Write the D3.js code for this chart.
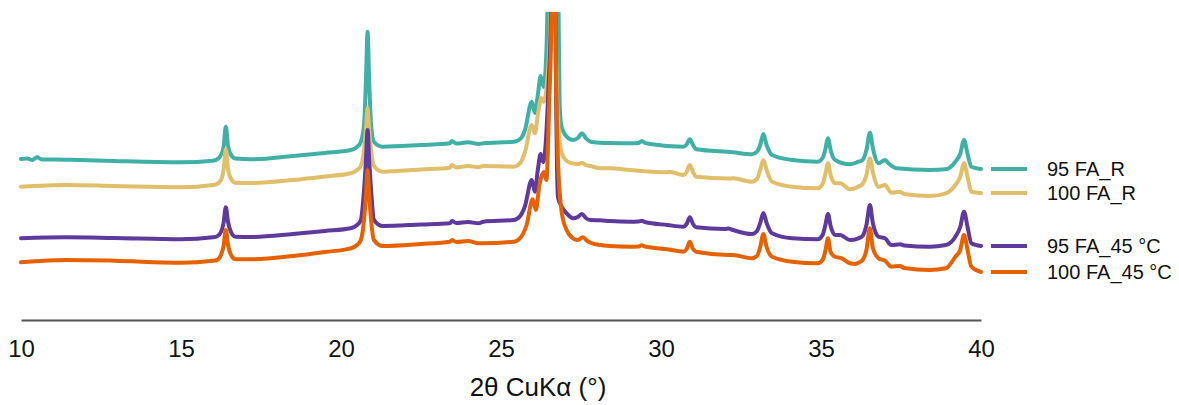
<!DOCTYPE html>
<html>
<head>
<meta charset="utf-8">
<script src="https://cdn.jsdelivr.net/npm/d3@7"></script>
<style>
  html, body { margin: 0; padding: 0; background: #fff; }
  svg { display: block; font-family: "Liberation Sans", Arial, sans-serif; }
</style>
</head>
<body>
<svg id="chart" width="1179" height="405"></svg>
<script>
// ---- data (2θ in degrees, stacked intensity in a.u.) ----
const seriesNames = ["95 FA_R", "100 FA_R", "95 FA_45 °C", "100 FA_45 °C"];
const seriesColors = ["#40B0A6", "#E1BE6A", "#5D3A9B", "#E66100"];
const xTicks = [10, 15, 20, 25, 30, 35, 40];
const xLabel = "2θ CuKα (°)";

const fa95R = [[10.0,161],[10.2,161.5],[10.35,160],[10.5,162.7],[10.65,160.5],[11.0,160.5],[11.8,160],[12.9,159],[15.0,157.7],[16.0,159.3],[16.12,160.5],[16.25,165],[16.33,173],[16.4,193.3],[16.47,174],[16.55,166],[16.7,161.5],[17.2,160.7],[18.5,164],[19.5,167],[20.3,170],[20.5,173],[20.62,178],[20.72,195],[20.78,240],[20.83,288.3],[20.88,240],[20.94,195],[21.03,178],[21.3,173.3],[22.5,175],[23.4,176.7],[23.47,179],[23.6,176.5],[23.97,177.7],[24.3,176],[24.45,176.7],[25.4,178.3],[25.6,181],[25.75,190],[25.96,218.3],[26.06,207],[26.15,225],[26.24,244],[26.33,233],[26.41,262],[26.46,330],[26.64,1500],[26.79,330],[26.83,220],[26.88,195],[27.05,183.3],[27.25,180],[27.4,182],[27.53,186.7],[27.65,182],[27.8,178.3],[28.1,177.3],[28.4,177],[29.03,176.7],[29.3,177],[29.4,179],[29.5,177],[29.66,176],[30.7,173.3],[30.8,175.5],[30.9,180.7],[31.0,175],[31.1,170.7],[32.25,167.7],[32.84,165.7],[33.0,168.3],[33.1,175],[33.2,186],[33.3,175],[33.47,165],[34.1,160],[34.9,158.3],[35.05,162],[35.13,170],[35.22,181.7],[35.3,170],[35.44,160],[35.9,155.7],[36.17,158.3],[36.3,160],[36.42,170],[36.53,187.3],[36.62,172],[36.8,156.7],[37.0,160],[37.1,157],[37.36,151.7],[38.4,150],[38.9,150.7],[39.2,158.3],[39.35,166],[39.47,180],[39.58,166],[39.7,153.3],[40.0,151]];

const fa100R = [[10.0,133.3],[11.4,135],[12.9,134],[15.0,132.7],[16.0,135],[16.12,136],[16.25,140],[16.33,150],[16.4,170.7],[16.47,151],[16.55,142],[16.7,137.3],[17.2,137],[18.5,140],[19.5,143.5],[20.3,146.7],[20.5,150],[20.62,154],[20.72,170],[20.78,190],[20.83,212],[20.88,190],[20.94,170],[21.03,154],[21.3,148.3],[22.5,150.5],[23.4,152.3],[23.47,155],[23.6,152.5],[23.97,154],[24.3,152.7],[24.45,154],[25.4,153.3],[25.6,157],[25.75,168],[25.96,195],[26.06,186.7],[26.15,205],[26.26,222],[26.33,218],[26.47,250],[26.57,330],[26.64,1500],[26.7,330],[26.77,210],[26.86,172],[26.95,163],[27.2,156.7],[27.4,156],[27.53,157],[27.65,155],[27.8,154],[28.1,151.7],[28.4,151.7],[29.03,150],[30.2,147.7],[30.25,148.3],[30.7,145],[30.8,148],[30.9,155],[31.0,148],[31.1,143.3],[32.1,141.5],[32.25,141.7],[32.84,138.3],[33.0,141],[33.1,150],[33.2,160],[33.3,150],[33.47,138.3],[34.1,133.3],[34.9,131.7],[35.05,136],[35.13,145],[35.22,156.7],[35.3,145],[35.44,136.7],[35.6,136.7],[35.9,130.7],[36.17,133.3],[36.3,136],[36.42,145],[36.53,161.7],[36.62,148],[36.8,133.3],[37.0,135],[37.2,127.3],[37.47,128.3],[37.6,126],[38.4,124],[38.9,126.7],[39.2,135],[39.35,143],[39.47,156.7],[39.58,143],[39.7,128.3],[40.0,127]];

const fa95T45 = [[10.0,81.7],[11.4,82.7],[12.9,82],[15.0,80.7],[16.0,82.7],[16.12,83.5],[16.25,88],[16.33,97],[16.4,112.7],[16.47,98],[16.55,89],[16.7,83.3],[17.2,83],[18.5,86],[19.5,89],[20.3,91.7],[20.5,95],[20.62,100],[20.72,130],[20.78,160],[20.83,190],[20.88,160],[20.94,130],[21.03,100],[21.3,94],[22.5,95.5],[23.4,96.7],[23.47,99],[23.6,97],[23.97,98],[24.3,96.7],[24.45,98.3],[25.4,100],[25.6,104],[25.75,114],[25.96,140],[26.06,128.3],[26.15,150],[26.24,166],[26.32,158],[26.48,230],[26.58,330],[26.64,1500],[26.7,330],[26.78,123],[26.9,113],[27.05,106.7],[27.25,101.7],[27.4,103],[27.53,106],[27.65,102],[27.8,100],[28.1,99.7],[28.4,99],[29.03,98.3],[29.3,98.5],[29.4,99.3],[29.5,98],[30.2,95],[30.7,93.3],[30.8,96],[30.9,102.7],[31.0,96],[31.1,92.7],[32.0,91],[32.1,91.5],[32.25,90],[32.84,86],[33.0,89],[33.1,97],[33.2,107],[33.3,97],[33.47,86.7],[34.1,81.7],[34.9,80.7],[35.05,85],[35.13,94],[35.22,106],[35.3,94],[35.44,85],[35.6,85],[35.9,80],[36.17,81.7],[36.3,84],[36.42,95],[36.53,115],[36.62,97],[36.8,83.3],[37.0,81.7],[37.2,75],[37.47,75.7],[37.6,74.5],[38.4,73.3],[38.9,75],[39.2,83.3],[39.35,93],[39.47,108.3],[39.58,93],[39.7,76.7],[40.0,74]];

const fa100T45 = [[10.0,57.7],[11.4,60],[12.9,59.3],[15.0,57.3],[16.0,59.3],[16.12,60],[16.25,65],[16.33,74],[16.4,90],[16.47,75],[16.55,66],[16.7,60.7],[17.2,60.7],[18.5,64],[19.5,68],[20.3,71.7],[20.5,75],[20.62,80],[20.72,100],[20.78,125],[20.83,150],[20.88,125],[20.94,100],[21.03,80],[21.3,74],[22.5,76],[23.4,78.3],[23.47,80],[23.6,78],[23.97,79],[24.3,76.7],[24.45,76.7],[25.4,78.3],[25.6,82],[25.8,95],[25.99,120.7],[26.09,110],[26.2,135],[26.34,148],[26.42,140],[26.5,210],[26.59,330],[26.64,1500],[26.69,330],[26.78,160],[26.9,107],[27.05,90],[27.25,81.7],[27.4,80],[27.56,82.7],[27.7,79],[27.8,77.3],[28.1,75],[28.4,74],[29.03,73.3],[29.3,73.5],[29.4,74.7],[29.5,73.5],[30.2,70.7],[30.7,68.3],[30.8,71],[30.9,78.3],[31.0,71],[31.1,68.3],[32.1,65],[32.25,65],[32.84,61.7],[33.0,64],[33.1,73],[33.2,86],[33.3,73],[33.47,63.3],[34.1,58.3],[34.9,56.7],[35.05,60],[35.13,68],[35.22,81.7],[35.3,68],[35.44,63.3],[35.65,61.7],[35.9,56.7],[36.07,56],[36.17,57.3],[36.3,60],[36.42,70],[36.53,91.7],[36.62,72],[36.8,61.7],[37.0,59.3],[37.2,53.3],[37.47,54],[37.6,52],[38.4,50],[38.9,51.7],[39.2,63.3],[39.35,70],[39.47,85],[39.58,70],[39.7,53.3],[40.0,48]];

const seriesData = [fa95R, fa100R, fa95T45, fa100T45];

// ---- chart ----
const svg = d3.select("#chart");
const x = d3.scaleLinear().domain([10, 40]).range([21, 981]);
const y = d3.scaleLinear().domain([0, 308]).range([320, 12]);

svg.append("defs").append("clipPath").attr("id", "plotclip")
  .append("rect").attr("x", 0).attr("y", 12).attr("width", 1179).attr("height", 310);

const line = d3.line()
  .x(d => x(d[0]))
  .y(d => y(d[1]))
  .curve(d3.curveMonotoneX);

const g = svg.append("g").attr("clip-path", "url(#plotclip)");
seriesData.forEach((s, i) => {
  g.append("path")
    .datum(s)
    .attr("d", line)
    .attr("fill", "none")
    .attr("stroke", seriesColors[i])
    .attr("stroke-width", 4)
    .attr("stroke-linejoin", "round")
    .attr("stroke-linecap", "round");
});

// x axis
const axis = d3.axisBottom(x).tickValues(xTicks).tickSize(0).tickPadding(20).tickFormat(d3.format("d"));
const ax = svg.append("g").attr("transform", "translate(0,320)").call(axis);
ax.select(".domain").attr("stroke", "#555").attr("stroke-width", 2);
ax.selectAll(".tick text").attr("font-size", 24).attr("fill", "#111")
  .attr("font-family", "'Liberation Sans', Arial, sans-serif");

svg.append("text")
  .attr("x", 538).attr("y", 396)
  .attr("text-anchor", "middle")
  .attr("font-size", 26)
  .attr("fill", "#111")
  .text(xLabel);

// legend (direct labels at series ends)
const lg = svg.append("g");
seriesData.forEach((s, i) => {
  const yy = y(s[s.length - 1][1]);
  lg.append("line")
    .attr("x1", 991).attr("x2", 1027)
    .attr("y1", yy).attr("y2", yy)
    .attr("stroke", seriesColors[i]).attr("stroke-width", 4);
  lg.append("text")
    .attr("x", 1047).attr("y", yy)
    .attr("dominant-baseline", "central")
    .attr("font-size", 20)
    .attr("fill", "#111")
    .text(seriesNames[i]);
});
</script>
</body>
</html>
